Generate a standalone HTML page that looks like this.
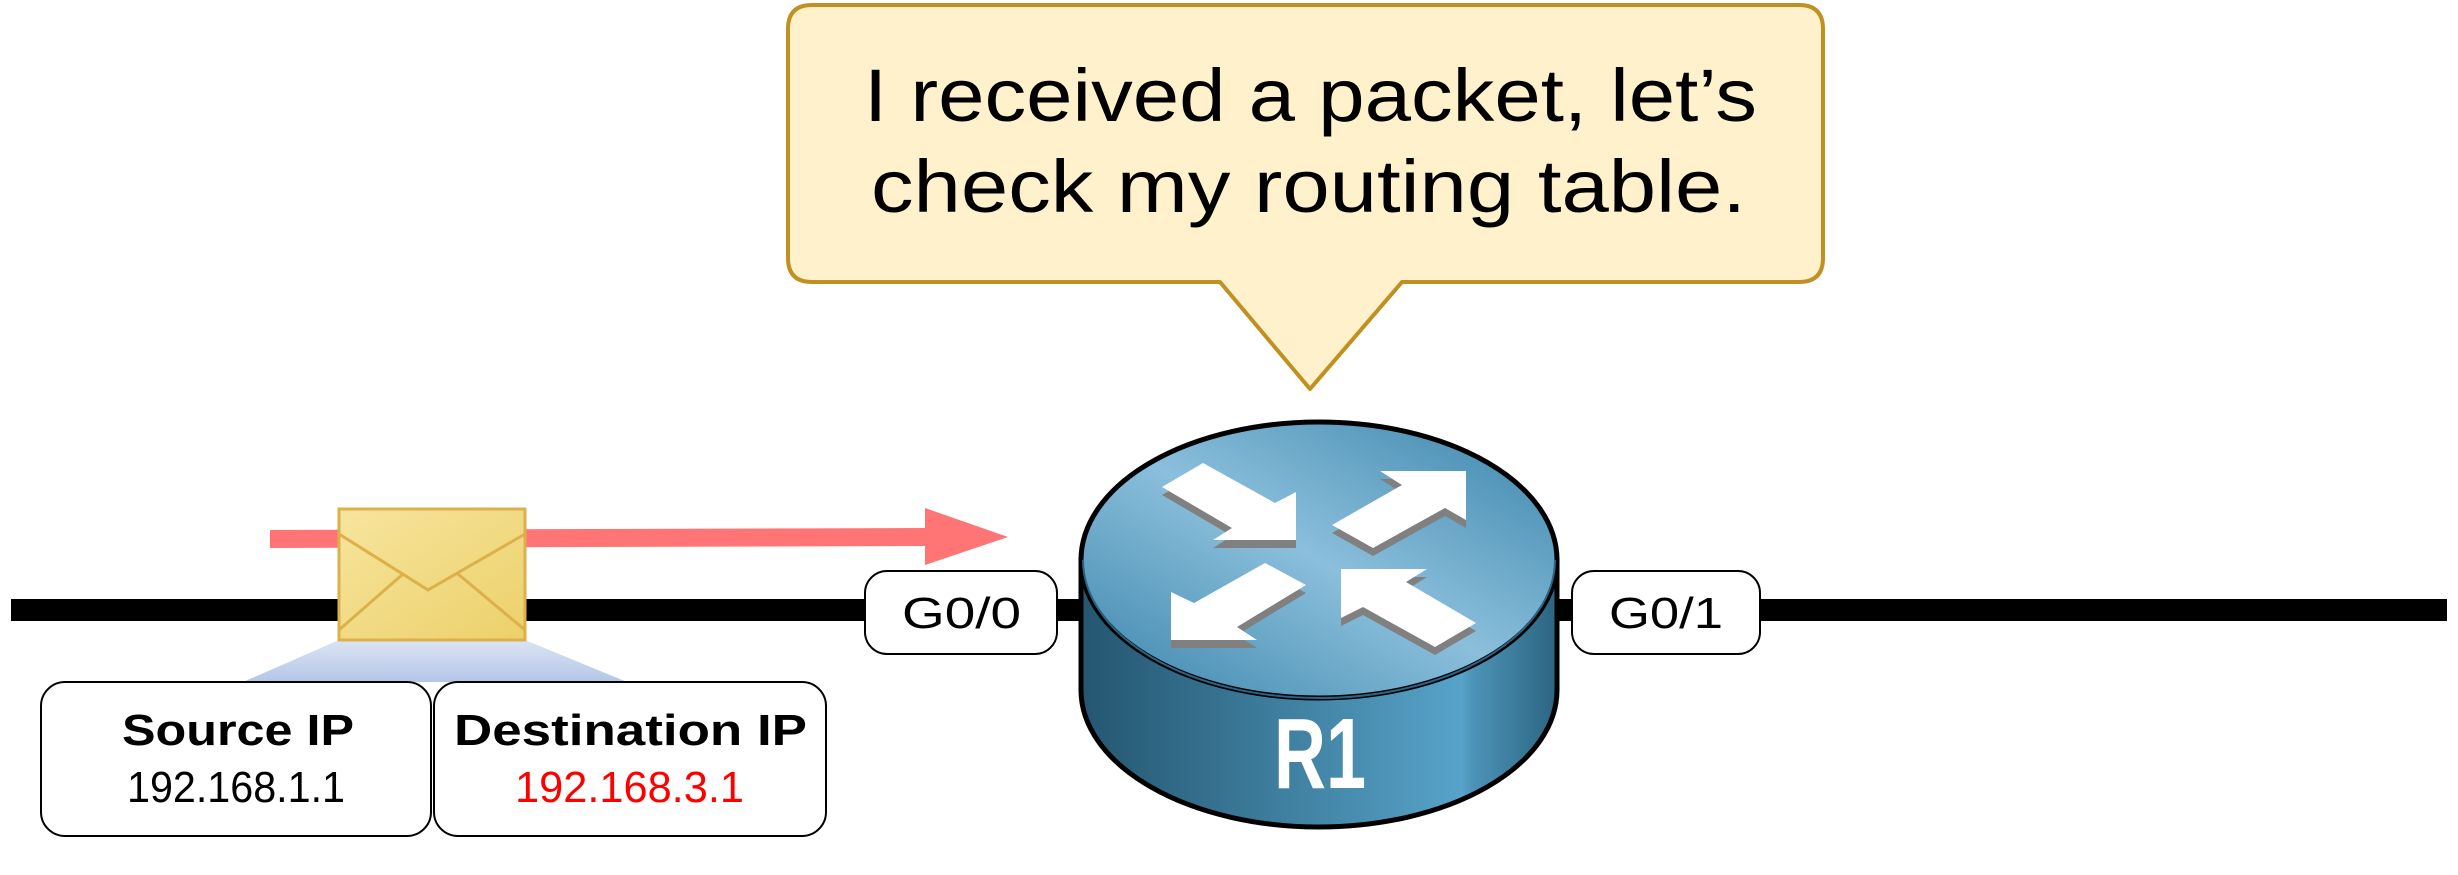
<!DOCTYPE html>
<html><head><meta charset="utf-8"><style>
html,body{margin:0;padding:0;background:#fff;}
svg{display:block;}
text{font-family:"Liberation Sans",sans-serif;}
</style></head><body>
<svg width="2458" height="875" viewBox="0 0 2458 875" xmlns="http://www.w3.org/2000/svg">
<defs>
<linearGradient id="env" x1="0" y1="0" x2="1" y2="1">
<stop offset="0" stop-color="#f7e59e"/><stop offset="1" stop-color="#ecd06a"/></linearGradient>
<linearGradient id="trap" x1="0" y1="0" x2="0" y2="1">
<stop offset="0" stop-color="#dce4f3"/><stop offset="1" stop-color="#b4c6e8"/></linearGradient>
<linearGradient id="body" x1="0" y1="0" x2="1" y2="0">
<stop offset="0" stop-color="#245670"/><stop offset="0.8" stop-color="#57a3c9"/><stop offset="0.82" stop-color="#4d94b8"/><stop offset="1" stop-color="#2c6482"/></linearGradient>
<linearGradient id="top" x1="0" y1="1" x2="1" y2="0">
<stop offset="0" stop-color="#3a84aa"/><stop offset="0.5" stop-color="#8bbfdc"/><stop offset="1" stop-color="#3a84aa"/></linearGradient>
</defs>

<rect x="11" y="599" width="2436" height="22" fill="#000"/>

<path d="M270 530 L925 528 L925 546 L270 548 Z" fill="#ff7575"/>
<polygon points="925,508 1008,537 925,565" fill="#ff7575"/>

<polygon points="339,640 525,640 627,682 243,682" fill="url(#trap)"/>

<rect x="339" y="509" width="186" height="131" fill="url(#env)" stroke="#dcb04a" stroke-width="3"/>
<polyline points="339,534 428,590 525,534" fill="none" stroke="#dcb04a" stroke-width="3"/>
<line x1="339" y1="630" x2="403" y2="574" stroke="#dcb04a" stroke-width="3"/>
<line x1="525" y1="630" x2="458" y2="574" stroke="#dcb04a" stroke-width="3"/>

<rect x="41" y="682" width="390" height="154" rx="24" fill="#fff" stroke="#000" stroke-width="2"/>
<rect x="434" y="682" width="392" height="154" rx="24" fill="#fff" stroke="#000" stroke-width="2"/>
<text x="122" y="745" font-size="44" font-weight="bold" textLength="232" lengthAdjust="spacingAndGlyphs">Source IP</text>
<text x="127" y="802" font-size="44" textLength="218" lengthAdjust="spacingAndGlyphs">192.168.1.1</text>
<text x="454" y="745" font-size="44" font-weight="bold" textLength="353" lengthAdjust="spacingAndGlyphs">Destination IP</text>
<text x="515" y="802" font-size="44" fill="#ff0000" textLength="229" lengthAdjust="spacingAndGlyphs">192.168.3.1</text>

<rect x="865" y="571" width="192" height="83" rx="22" fill="#fff" stroke="#000" stroke-width="2"/>
<text x="902" y="628" font-size="44" textLength="119" lengthAdjust="spacingAndGlyphs">G0/0</text>
<rect x="1572" y="571" width="188" height="83" rx="22" fill="#fff" stroke="#000" stroke-width="2"/>
<text x="1609" y="628" font-size="44" textLength="114" lengthAdjust="spacingAndGlyphs">G0/1</text>

<!-- router -->
<path d="M1081 560 L1081 690 A238 137 0 0 0 1557 690 L1557 560 Z" fill="url(#body)" stroke="#000" stroke-width="5"/>
<ellipse cx="1319" cy="560" rx="238" ry="138" fill="url(#top)" stroke="#000" stroke-width="5"/>
<path d="M1083 560 A236 138 0 0 0 1555 560" fill="none" stroke="#2a6384" stroke-width="2"/>
<g fill="#808080" transform="translate(0,8)">
<polygon points="1203,463 1275,503 1296,492 1296,540 1213,540 1232,528 1162,487"/>
<polygon points="1332,525 1402,485 1380,471 1466,471 1466,520 1445,508 1373,548"/>
<polygon points="1265,563 1306,585 1237,627 1257,640 1171,640 1171,592 1194,603"/>
<polygon points="1341,569 1427,569 1406,582 1476,623 1435,647 1363,607 1341,618"/>
</g>
<g fill="#fff">
<polygon points="1203,463 1275,503 1296,492 1296,540 1213,540 1232,528 1162,487"/>
<polygon points="1332,525 1402,485 1380,471 1466,471 1466,520 1445,508 1373,548"/>
<polygon points="1265,563 1306,585 1237,627 1257,640 1171,640 1171,592 1194,603"/>
<polygon points="1341,569 1427,569 1406,582 1476,623 1435,647 1363,607 1341,618"/>
</g>
<text x="1274" y="788" font-size="100" font-weight="bold" fill="#fff" textLength="92" lengthAdjust="spacingAndGlyphs">R1</text>

<!-- callout -->
<path d="M812 5 L1799 5 Q1823 5 1823 29 L1823 258 Q1823 282 1799 282 L1402 282 L1310 389 L1220 282 L812 282 Q788 282 788 258 L788 29 Q788 5 812 5 Z" fill="#fff1cc" stroke="#c09020" stroke-width="4" stroke-linejoin="round"/>
<text x="864" y="121" font-size="74" textLength="893" lengthAdjust="spacingAndGlyphs">I received a packet, let’s</text>
<text x="871" y="212" font-size="74" textLength="875" lengthAdjust="spacingAndGlyphs">check my routing table.</text>
</svg>
</body></html>
